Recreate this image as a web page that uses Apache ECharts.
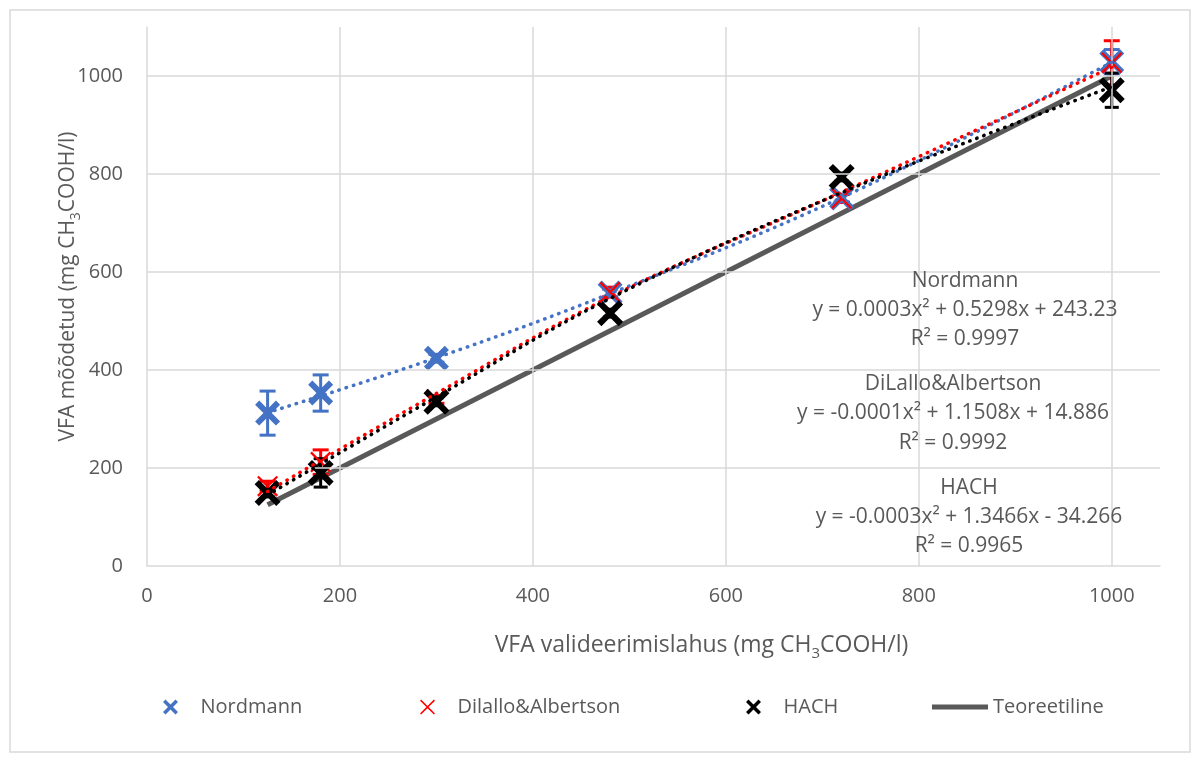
<!DOCTYPE html>
<html>
<head>
<meta charset="utf-8">
<script src="https://cdn.jsdelivr.net/npm/echarts@6/dist/echarts.min.js"></script>
<style>html,body{margin:0;padding:0;background:#fff}#c{width:1200px;height:764px}</style>
</head>
<body>
<div id="c"></div>
<script>
// ---- data ----
const xVals = [125, 180, 300, 480, 720, 1000];
const nordmann = [312, 353, 424, 557, 751, 1029];
const nordmannErr = [45, 37, 8, 8, 8, 25];
const dilallo = [163, 212, 340, 559, 750, 1027];
const dilalloErr = [10, 25, 8, 10, 8, 45];
const hach = [149, 190, 335, 516, 794, 971];
const hachErr = [8, 29, 8, 8, 8, 35];
const teoreetilineX = [125, 1000];
const teoreetilineY = [125, 1000];
// trend lines (2nd order polynomial)
const trendX = [125, 300, 480, 720, 1000];
const trendNordmann = [313, 425, 556, 752, 1028];
const trendDilallo = [152, 352, 549, 763, 1018];
const trendHach = [145, 345, 546, 762, 978];
const xTicks = [0, 200, 400, 600, 800, 1000];
const yTicks = [0, 200, 400, 600, 800, 1000];
const trendLabels = [
  ['Nordmann', 'y = 0.0003x² + 0.5298x + 243.23', 'R² = 0.9997'],
  ['DiLallo&Albertson', 'y = -0.0001x² + 1.1508x + 14.886', 'R² = 0.9992'],
  ['HACH', 'y = -0.0003x² + 1.3466x - 34.266', 'R² = 0.9965']
];

const FONT = '"Open Sans", sans-serif';
const TXT = '#595959';
const GRID = '#D9D9D9';
const X_THICK = 'path://M0,4L4,0L12,8L20,0L24,4L16,12L24,20L20,24L12,16L4,24L0,20L8,12Z';
const X_THIN = 'path://M0,1.5L1.5,0L10,8.5L18.5,0L20,1.5L11.5,10L20,18.5L18.5,20L10,11.5L1.5,20L0,18.5L8.5,10Z';

const pts = (ys) => xVals.map((x, i) => [x, ys[i]]);
const errPts = (ys, es) => xVals.map((x, i) => [x, ys[i], es[i]]);

function errorBars(name, color, cap, ys, es, z) {
  return {
    type: 'custom', name: name + '_err', z: z, silent: true,
    data: errPts(ys, es),
    encode: { x: 0, y: 1 },
    renderItem: function (params, api) {
      const x = api.value(0), y = api.value(1), e = api.value(2);
      const t = api.coord([x, y + e]);
      const b = api.coord([x, y - e]);
      const st = { stroke: color, lineWidth: 3 };
      return { type: 'group', children: [
        { type: 'line', shape: { x1: t[0], y1: t[1], x2: b[0], y2: b[1] }, style: st },
        { type: 'line', shape: { x1: t[0] - cap, y1: t[1], x2: t[0] + cap, y2: t[1] }, style: st },
        { type: 'line', shape: { x1: b[0] - cap, y1: b[1], x2: b[0] + cap, y2: b[1] }, style: st }
      ]};
    }
  };
}

function trend(name, color, ys) {
  return {
    type: 'line', name: name + '_trend', data: trendX.map((x, i) => [x, ys[i]]), smooth: 0.4,
    symbol: 'none', z: 6, silent: true,
    lineStyle: { color: color, width: 3.5, type: [0.5, 7], cap: 'round' }
  };
}

const gridLines = {
  type: 'line', name: 'gridlines', data: [], silent: true, z: 1,
  markLine: {
    silent: true, symbol: 'none', label: { show: false },
    lineStyle: { color: GRID, width: 1.5, type: 'solid' },
    data: xTicks.filter(v => v > 0).map(v => ({ xAxis: v }))
      .concat(yTicks.filter(v => v > 0).map(v => ({ yAxis: v })))
  }
};

const textStyle = { color: TXT, fontSize: 20, fontFamily: FONT };
const labelPos = [
  [965, [281, 310, 339]],
  [953, [384, 413, 443]],
  [969, [488, 517, 546]]
];
const graphics = [{
  type: 'rect', silent: true, z: -1,
  shape: { x: 10, y: 10, width: 1180, height: 742 },
  style: { fill: null, stroke: GRID, lineWidth: 1.5 }
}];
trendLabels.forEach((lines, i) => {
  lines.forEach((t, j) => {
    graphics.push({
      type: 'text', silent: true, z: 10,
      x: labelPos[i][0], y: labelPos[i][1][j],
      style: { text: t, fill: TXT, fontSize: 21, fontFamily: FONT, align: 'center', verticalAlign: 'middle' }
    });
  });
});

const titleRich = {
  a: { fontSize: 23, fontFamily: FONT, color: TXT, lineHeight: 32 },
  s: { fontSize: 15, fontFamily: FONT, color: TXT, lineHeight: 16, verticalAlign: 'bottom' }
};
const yTitleRich = {
  a: { fontSize: 21, fontFamily: FONT, color: TXT, lineHeight: 30 },
  s: { fontSize: 14, fontFamily: FONT, color: TXT, lineHeight: 15, verticalAlign: 'bottom' }
};

const chart = echarts.init(document.getElementById('c'), null, { renderer: 'canvas' });
chart.setOption({
  animation: false,
  backgroundColor: '#fff',
  grid: { left: 147, right: 40, top: 27, bottom: 198 },
  xAxis: {
    type: 'value', min: 0, max: 1050, interval: 200,
    name: '{a|VFA valideerimislahus (mg CH}{s|3}{a|COOH/l)}',
    nameLocation: 'middle', nameGap: 63, nameMoveOverlap: false,
    nameTextStyle: { padding: [0, 0, 0, 96], rich: titleRich },
    axisLine: { show: true, lineStyle: { color: GRID, width: 1.5 } },
    axisTick: { show: false },
    splitLine: { show: false },
    axisLabel: { color: TXT, fontSize: 20, fontFamily: FONT, margin: 20, showMaxLabel: false,
      formatter: v => String(v) }
  },
  yAxis: {
    type: 'value', min: 0, max: 1100, interval: 200,
    name: '{a|VFA mõõdetud (mg CH}{s|3}{a|COOH/l)}',
    nameLocation: 'middle', nameGap: 64, nameMoveOverlap: false,
    nameTextStyle: { padding: [0, 0, 0, 20], rich: yTitleRich },
    axisLine: { show: true, lineStyle: { color: GRID, width: 1.5 } },
    axisTick: { show: false },
    splitLine: { show: false },
    axisLabel: { color: TXT, fontSize: 20, fontFamily: FONT, margin: 24, showMaxLabel: false,
      formatter: v => String(v) }
  },
  legend: [
    { left: 158, top: 692, data: ['Nordmann'], itemWidth: 50, itemHeight: 15, itemGap: 0, textStyle: textStyle, selectedMode: false },
    { left: 415, top: 692, data: ['Dilallo&Albertson'], itemWidth: 50, itemHeight: 15, itemGap: 0, textStyle: textStyle, selectedMode: false },
    { left: 741, top: 692, data: ['HACH'], itemWidth: 50, itemHeight: 15, itemGap: 0, textStyle: textStyle, selectedMode: false },
    { left: 927, top: 692, data: [{ name: 'Teoreetiline', icon: 'rect' }], itemWidth: 56, itemHeight: 5, itemGap: 0, textStyle: textStyle, selectedMode: false }
  ],
  graphic: graphics,
  series: [
    gridLines,
    {
      type: 'line', name: 'Teoreetiline', z: 2, silent: true,
      data: teoreetilineX.map((x, i) => [x, teoreetilineY[i]]),
      symbol: 'none', itemStyle: { color: '#595959' },
      lineStyle: { color: '#595959', width: 5 }
    },
    errorBars('Nordmann', '#4472C4', 8, nordmann, nordmannErr, 3),
    errorBars('Dilallo&Albertson', '#FF0000', 8, dilallo, dilalloErr, 3),
    errorBars('HACH', '#000000', 7, hach, hachErr, 3),
    {
      type: 'scatter', name: 'Nordmann', data: pts(nordmann), z: 4,
      symbol: X_THICK, symbolSize: 25, symbolKeepAspect: true,
      itemStyle: { color: '#4472C4', opacity: 1 }
    },
    {
      type: 'scatter', name: 'Dilallo&Albertson', data: pts(dilallo), z: 4,
      symbol: X_THIN, symbolSize: 21, symbolKeepAspect: true,
      itemStyle: { color: '#FF0000', opacity: 1 }
    },
    {
      type: 'scatter', name: 'HACH', data: pts(hach), z: 4,
      symbol: X_THICK, symbolSize: 26, symbolKeepAspect: true,
      itemStyle: { color: '#000000', opacity: 1 }
    },
    trend('Nordmann', '#4472C4', trendNordmann),
    trend('Dilallo&Albertson', '#FF0000', trendDilallo),
    trend('HACH', '#000000', trendHach)
  ]
});
</script>
</body>
</html>
